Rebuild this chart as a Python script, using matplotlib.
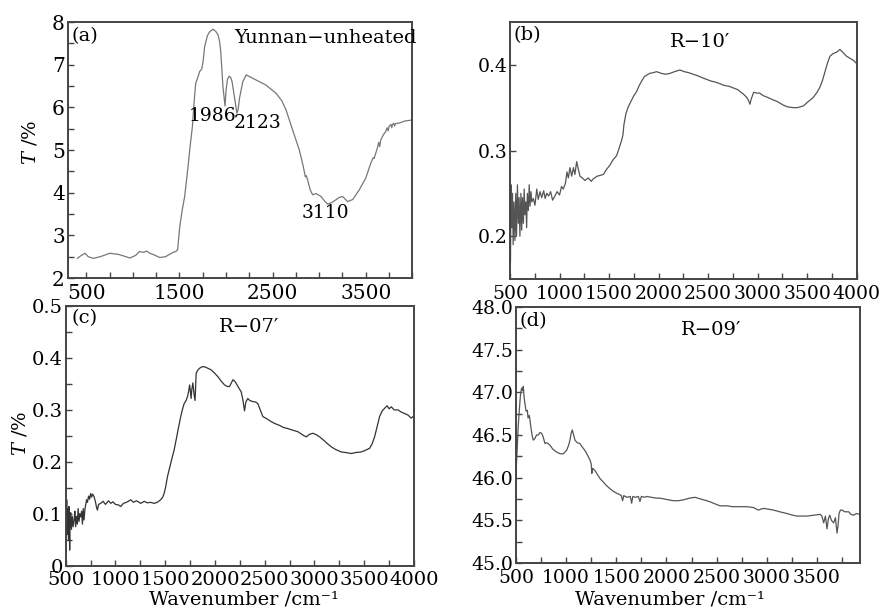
import matplotlib
matplotlib.use("Agg")
import matplotlib.pyplot as plt
from matplotlib.ticker import MultipleLocator, FixedLocator, FuncFormatter, FormatStrFormatter

plt.rcParams['font.family'] = ['DejaVu Serif']
plt.rcParams['mathtext.fontset'] = 'dejavuserif'

# (a) Yunnan-unheated
a_x = [404, 440, 486, 520, 575, 650, 754, 850, 969, 1030, 1070, 1110, 1150, 1180, 1220,
       1289, 1350, 1431, 1460, 1480, 1503, 1530, 1556, 1592, 1615, 1639, 1660, 1674, 1700,
       1717, 1740, 1755, 1770, 1800, 1824, 1860, 1890, 1914, 1930, 1942, 1955, 1967, 1989,
       2000, 2015, 2033, 2050, 2065, 2093, 2117, 2130, 2145, 2180, 2216, 2270, 2323, 2430,
       2537, 2600, 2644, 2715, 2787, 2830, 2851, 2862, 2876, 2890, 2905, 2930, 2966, 3020,
       3060, 3091, 3145, 3216, 3252, 3306, 3360, 3429, 3500, 3554, 3580, 3590, 3607, 3625,
       3640, 3650, 3661, 3690, 3714, 3730, 3740, 3750, 3770, 3780, 3786, 3800, 3810, 3820,
       3857, 3920, 3989]
a_y = [2.46, 2.52, 2.58, 2.50, 2.46, 2.50, 2.58, 2.55, 2.47, 2.53, 2.62, 2.60, 2.63, 2.58, 2.55,
       2.48, 2.50, 2.60, 2.62, 2.66, 3.20, 3.60, 3.91, 4.61, 5.10, 5.55, 6.20, 6.56, 6.72,
       6.84, 6.90, 7.10, 7.42, 7.68, 7.77, 7.83, 7.78, 7.70, 7.55, 7.34, 6.90, 6.48, 6.03,
       6.40, 6.65, 6.73, 6.70, 6.60, 6.20, 5.86, 5.95, 6.22, 6.60, 6.76, 6.70, 6.64, 6.52,
       6.33, 6.15, 5.94, 5.47, 5.00, 4.61, 4.37, 4.40, 4.30, 4.18, 4.06, 3.95, 3.98, 3.91,
       3.80, 3.73, 3.78, 3.89, 3.91, 3.79, 3.84, 4.06, 4.34, 4.69, 4.82, 4.80, 4.92, 5.05,
       5.18, 5.08, 5.23, 5.36, 5.43, 5.52, 5.45, 5.55, 5.60, 5.52, 5.59, 5.63, 5.56, 5.62,
       5.63, 5.68, 5.70]

# (b) R-10'
b_x = [505, 510, 518, 525, 532, 540, 550, 558, 566, 575, 584, 592, 600, 610, 618, 626, 635,
       643, 651, 660, 668, 675, 685, 694, 702, 712, 720, 736, 752, 770, 785, 803, 820, 840,
       855, 871, 890, 910, 930, 954, 975, 1000, 1020, 1038, 1060, 1075, 1089, 1105, 1123,
       1140, 1155, 1173, 1190, 1207, 1230, 1257, 1290, 1320, 1341, 1380, 1410, 1442, 1475,
       1509, 1540, 1576, 1600, 1627, 1640, 1650, 1670, 1694, 1720, 1750, 1779, 1805, 1829,
       1855, 1879, 1910, 1950, 1980, 2030, 2070, 2115, 2160, 2216, 2260, 2300, 2350, 2400,
       2440, 2485, 2530, 2570, 2619, 2660, 2710, 2754, 2800, 2830, 2855, 2890, 2910, 2922,
       2935, 2960, 2989, 3020, 3057, 3100, 3158, 3200, 3259, 3300, 3360, 3400, 3461, 3510,
       3562, 3600, 3629, 3655, 3680, 3705, 3730, 3760, 3800, 3831, 3865, 3898, 3940, 3970, 3995]
b_y = [0.17, 0.26, 0.21, 0.25, 0.19, 0.24, 0.195, 0.25, 0.20, 0.26, 0.215, 0.245, 0.20, 0.25,
       0.207, 0.245, 0.215, 0.255, 0.225, 0.24, 0.21, 0.25, 0.23, 0.26, 0.235, 0.252, 0.24,
       0.244, 0.236, 0.255, 0.243, 0.252, 0.245, 0.253, 0.244, 0.25, 0.247, 0.252, 0.242,
       0.247, 0.252, 0.248, 0.258, 0.255, 0.262, 0.275, 0.268, 0.28, 0.27, 0.28, 0.272, 0.287,
       0.278, 0.270, 0.268, 0.265, 0.268, 0.264, 0.267, 0.27, 0.271, 0.272, 0.278, 0.283,
       0.289, 0.294, 0.302, 0.312, 0.318, 0.33, 0.343, 0.351, 0.357, 0.364, 0.369, 0.376,
       0.381, 0.386, 0.388, 0.390, 0.391, 0.392, 0.390, 0.389, 0.390, 0.392, 0.394, 0.392,
       0.391, 0.389, 0.387, 0.385, 0.383, 0.381, 0.380, 0.378, 0.376, 0.375, 0.373, 0.371,
       0.368, 0.366, 0.362, 0.358, 0.354, 0.360, 0.368, 0.367, 0.367, 0.364, 0.362, 0.359,
       0.357, 0.353, 0.351, 0.350, 0.350, 0.352, 0.357, 0.362, 0.368, 0.374, 0.382, 0.392,
       0.402, 0.410, 0.413, 0.415, 0.418, 0.414, 0.410, 0.407, 0.405, 0.402]

# (c) R-07'
c_x = [505, 510, 515, 520, 528, 533, 540, 545, 550, 558, 566, 575, 584, 592, 600, 608, 617,
       625, 634, 642, 651, 660, 668, 676, 684, 694, 702, 710, 718, 730, 740, 751, 760, 770,
       785, 800, 810, 819, 830, 852, 875, 900, 930, 953, 975, 1000, 1030, 1053, 1080, 1110,
       1130, 1154, 1180, 1210, 1230, 1254, 1290, 1320, 1350, 1388, 1420, 1455, 1475, 1489,
       1505, 1522, 1540, 1556, 1572, 1589, 1605, 1623, 1640, 1656, 1672, 1690, 1710, 1723,
       1735, 1745, 1752, 1760, 1768, 1778, 1790, 1800, 1811, 1825, 1844, 1870, 1895, 1930,
       1962, 2000, 2029, 2060, 2096, 2125, 2146, 2165, 2180, 2200, 2213, 2240, 2263, 2280,
       2297, 2310, 2330, 2350, 2381, 2410, 2431, 2455, 2481, 2520, 2560, 2598, 2650, 2690,
       2732, 2780, 2833, 2880, 2917, 2950, 2984, 3020, 3051, 3090, 3130, 3168, 3210, 3269,
       3310, 3369, 3420, 3470, 3510, 3554, 3580, 3604, 3630, 3654, 3680, 3704, 3730, 3750,
       3771, 3800, 3838, 3870, 3905, 3940, 3972, 3995]
c_y = [0.05, 0.127, 0.06, 0.11, 0.05, 0.114, 0.03, 0.09, 0.102, 0.07, 0.095, 0.075, 0.088,
       0.105, 0.075, 0.095, 0.08, 0.11, 0.085, 0.10, 0.094, 0.105, 0.08, 0.11, 0.088, 0.11,
       0.118, 0.127, 0.122, 0.134, 0.128, 0.139, 0.132, 0.138, 0.133, 0.122, 0.112, 0.107,
       0.118, 0.12, 0.124, 0.118, 0.125, 0.12, 0.123, 0.118, 0.117, 0.114, 0.12, 0.122, 0.124,
       0.127, 0.122, 0.125, 0.123, 0.12, 0.124, 0.121, 0.122, 0.12, 0.122, 0.127, 0.132,
       0.139, 0.152, 0.171, 0.185, 0.197, 0.21, 0.222, 0.238, 0.255, 0.272, 0.287, 0.30,
       0.312, 0.318, 0.325, 0.335, 0.348, 0.338, 0.322, 0.340, 0.352, 0.330, 0.318, 0.37,
       0.376, 0.38, 0.383, 0.383, 0.380, 0.377, 0.370, 0.364, 0.356, 0.348, 0.345, 0.345,
       0.352, 0.358, 0.355, 0.351, 0.342, 0.335, 0.32, 0.298, 0.315, 0.322, 0.318, 0.316,
       0.315, 0.312, 0.300, 0.287, 0.283, 0.278, 0.274, 0.27, 0.266, 0.264, 0.261, 0.258,
       0.252, 0.248, 0.253, 0.255, 0.252, 0.248, 0.242, 0.235, 0.229, 0.224, 0.219, 0.218,
       0.216, 0.218, 0.219, 0.222, 0.226, 0.235, 0.248, 0.268, 0.287, 0.298, 0.303, 0.308,
       0.302, 0.306, 0.300, 0.30, 0.296, 0.293, 0.29, 0.284, 0.288]

# (d) R-09'
d_x = [500, 513, 522, 533, 545, 556, 565, 573, 580, 589, 600, 613, 620, 633, 645, 660, 672,
       689, 705, 722, 740, 755, 770, 789, 805, 820, 838, 870, 905, 940, 971, 1004, 1025,
       1038, 1050, 1061, 1075, 1088, 1110, 1137, 1160, 1187, 1210, 1237, 1250, 1256, 1264,
       1290, 1310, 1337, 1370, 1400, 1437, 1470, 1500, 1537, 1550, 1563, 1575, 1590, 1610,
       1640, 1653, 1665, 1690, 1720, 1736, 1750, 1780, 1803, 1850, 1900, 1936, 1980, 2020,
       2069, 2120, 2169, 2230, 2286, 2340, 2402, 2450, 2490, 2535, 2600, 2660, 2735, 2800,
       2868, 2900, 2918, 2940, 2968, 3020, 3068, 3130, 3201, 3260, 3301, 3350, 3401, 3470,
       3534, 3550, 3568, 3585, 3601, 3615, 3628, 3645, 3667, 3685, 3701, 3712, 3721, 3735,
       3751, 3780, 3817, 3840, 3867, 3895, 3927]
d_y = [46.05, 46.36, 46.60, 46.79, 46.98, 47.05, 47.02, 47.07, 46.95, 46.87, 46.78, 46.79,
       46.70, 46.73, 46.62, 46.50, 46.44, 46.46, 46.50, 46.50, 46.53, 46.52, 46.48, 46.40,
       46.41, 46.40, 46.38, 46.33, 46.30, 46.28, 46.28, 46.32, 46.38, 46.44, 46.52, 46.56,
       46.50, 46.44, 46.41, 46.40, 46.36, 46.32, 46.27, 46.21, 46.16, 46.05, 46.11, 46.08,
       46.04, 45.99, 45.95, 45.91, 45.87, 45.84, 45.82, 45.80, 45.79, 45.73, 45.79, 45.78,
       45.77, 45.78, 45.70, 45.78, 45.77, 45.78, 45.72, 45.78, 45.77, 45.78, 45.77, 45.76,
       45.76, 45.75, 45.74, 45.73, 45.73, 45.74, 45.76, 45.77, 45.75, 45.73, 45.71, 45.69,
       45.67, 45.67, 45.66, 45.66, 45.66, 45.65, 45.63, 45.62, 45.63, 45.64, 45.63, 45.62,
       45.60, 45.58, 45.56, 45.55, 45.55, 45.55, 45.56, 45.57, 45.55, 45.47, 45.55, 45.40,
       45.52, 45.56, 45.50, 45.47, 45.53, 45.35, 45.45, 45.58, 45.62, 45.62, 45.60, 45.60,
       45.57, 45.56, 45.58, 45.57]

W, H = 880, 609


def rect(l, t, r, b):
    return [l / W, 1 - b / H, (r - l) / W, (b - t) / H]


def ftext(x, y, s, **kw):
    fig.text(x / W, 1 - y / H, s, ha='center', va='center', **kw)


fig = plt.figure(figsize=(8.8, 6.09), dpi=100)

axa = fig.add_axes(rect(67.7, 22, 412.3, 278))
axb = fig.add_axes(rect(510, 22, 856.7, 279))
axc = fig.add_axes(rect(65.7, 306, 414, 565.7))
axd = fig.add_axes(rect(516, 307, 860, 563))

axa.plot(a_x, a_y, color='#777777', lw=0.9)
axb.plot(b_x, b_y, color='#555555', lw=0.9)
axc.plot(c_x, c_y, color='#333333', lw=0.9)
axd.plot(d_x, d_y, color='#555555', lw=0.9)

axa.set_xlim(300, 4000)
axa.set_ylim(2, 8)
axa.xaxis.set_major_locator(FixedLocator([500, 1500, 2500, 3500]))
axa.xaxis.set_minor_locator(MultipleLocator(250))
axa.yaxis.set_major_locator(MultipleLocator(1))
axa.yaxis.set_minor_locator(MultipleLocator(0.5))

axb.set_xlim(500, 4000)
axb.set_ylim(0.15, 0.45)
axb.xaxis.set_major_locator(MultipleLocator(500))
axb.xaxis.set_minor_locator(MultipleLocator(250))
axb.yaxis.set_major_locator(FixedLocator([0.2, 0.3, 0.4]))
axb.yaxis.set_major_formatter(FormatStrFormatter('%.1f'))

axc.set_xlim(500, 4000)
axc.set_ylim(0, 0.5)
axc.xaxis.set_major_locator(MultipleLocator(500))
axc.xaxis.set_minor_locator(MultipleLocator(250))
axc.yaxis.set_major_locator(FixedLocator([0, 0.1, 0.2, 0.3, 0.4, 0.5]))
axc.yaxis.set_minor_locator(MultipleLocator(0.05))
axc.yaxis.set_major_formatter(FuncFormatter(lambda v, p: '0' if abs(v) < 1e-9 else '%.1f' % v))

axd.set_xlim(500, 3930)
axd.set_ylim(45, 48)
axd.xaxis.set_major_locator(FixedLocator([500, 1000, 1500, 2000, 2500, 3000, 3500]))
axd.xaxis.set_minor_locator(MultipleLocator(250))
axd.yaxis.set_major_locator(MultipleLocator(0.5))
axd.yaxis.set_minor_locator(MultipleLocator(0.25))
axd.yaxis.set_major_formatter(FormatStrFormatter('%.1f'))

for ax, fs in [(axa, 14.5), (axb, 13.5), (axc, 14), (axd, 13.5)]:
    for sp in ax.spines.values():
        sp.set_color('#444444')
        sp.set_linewidth(1.4)
    ax.tick_params(which='both', direction='in', length=4, width=1, color='#444444',
                   labelsize=fs, pad=2, top=False, right=False)
    ax.tick_params(axis='x', which='both', pad=4)

# panel labels
ftext(85, 36, '(a)', fontsize=14)
ftext(325, 38, 'Yunnan\u2212unheated', fontsize=14)
ftext(527, 35, '(b)', fontsize=14)
ftext(700, 42, 'R\u221210\u2032', fontsize=14)
ftext(85, 318, '(c)', fontsize=14)
ftext(249, 327, 'R\u221207\u2032', fontsize=14)
ftext(533, 321, '(d)', fontsize=14)
ftext(711, 330, 'R\u221209\u2032', fontsize=14)

# peak annotations
axa.text(1856, 5.80, '1986', fontsize=13.5, ha='center', va='center')
axa.text(2338, 5.64, '2123', fontsize=13.5, ha='center', va='center')
axa.text(3066, 3.52, '3110', fontsize=13.5, ha='center', va='center')

# axis labels
ftext(30, 142, r'$T$ /%', fontsize=14, rotation=90)
ftext(20, 433, r'$T$ /%', fontsize=14, rotation=90)
ftext(244, 600, 'Wavenumber /cm\u207b\u00b9', fontsize=14)
ftext(670, 600, 'Wavenumber /cm\u207b\u00b9', fontsize=14)

fig.savefig('out.png', dpi=100)
